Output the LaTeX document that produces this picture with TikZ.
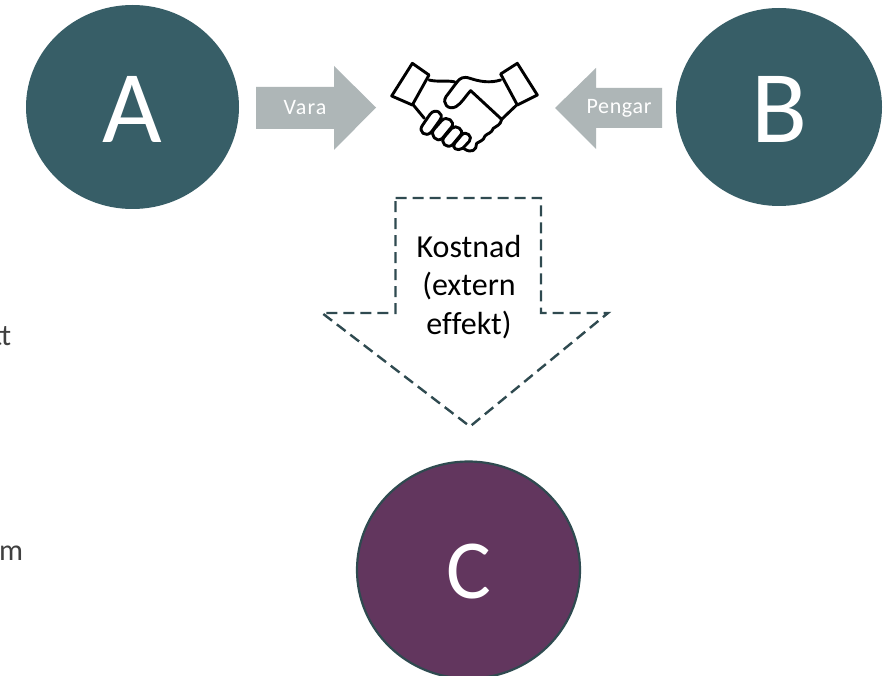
\documentclass[tikz,border=0pt]{standalone}
\usepackage{fontspec}
\setmainfont{Carlito}
\definecolor{teal}{HTML}{375E67}
\definecolor{plum}{HTML}{62365E}
\definecolor{arrowgrey}{HTML}{AEB6B7}
\definecolor{dashc}{HTML}{2F4A50}
\definecolor{cuttext}{HTML}{404040}
\tikzset{
  disc/.style={draw=none,fill=teal,ellipse,inner sep=0pt,text=white},
  bigarrow/.style={fill=arrowgrey,draw=none},
  arrowlabel/.style={text=white,font=\fontsize{22}{26}\selectfont,inner sep=0pt},
  shake/.style={draw=black,line width=2.9pt,line join=round,line cap=round,fill=white},
  shakeline/.style={draw=black,line width=2.9pt,line join=round,line cap=round},
  dasharrow/.style={draw=dashc,line width=2.4pt,dash pattern=on 11pt off 6pt,line join=miter},
  cuttxt/.style={text=cuttext,font=\fontsize{30}{34}\selectfont,inner sep=0pt,anchor=base west},
}
\usetikzlibrary{shapes.geometric}
\begin{document}
\begin{tikzpicture}[x=1pt,y=-1pt]
\useasboundingbox (0,0) rectangle (894,676);
\fill[white] (0,0) rectangle (894,676);
% discs
\node[disc,minimum width=213pt,minimum height=204pt] (A) at (132.5,107) {};
\node[font=\fontsize{103}{110}\selectfont,text=white,inner sep=0pt] (Alabel) at (132,109) {A};
\node[disc,minimum width=206pt,minimum height=198pt] (B) at (779,107) {};
\node[font=\fontsize{103}{110}\selectfont,text=white,inner sep=0pt] (Blabel) at (780,109) {B};
\node[disc,fill=plum,draw=dashc,line width=2.2pt,minimum width=223pt,minimum height=217pt] (C) at (468.5,570) {};
\node[font=\fontsize{84}{90}\selectfont,text=white,inner sep=0pt] (Clabel) at (469,572) {C};
% grey arrows
\fill[bigarrow] (256,87) -- (334,87) -- (334,66) -- (376,107.5) -- (334,150) -- (334,129) -- (256,129) -- cycle;
\node[arrowlabel] (vara) at (305,108) {\addfontfeature{LetterSpace=5}Vara};
\fill[bigarrow] (662,88) -- (596,88) -- (596,68) -- (555,108) -- (596,149) -- (596,128) -- (662,128) -- cycle;
\node[arrowlabel] (pengar) at (619,108) {\addfontfeature{LetterSpace=3}Pengar};
% handshake
\begin{scope}[shift={(380,50)},x=0.3333pt,y=-0.3333pt]
  \path[shake] (97,40) -- (147,75) -- (97,165) -- (35,138) -- cycle;
  \path[shake] (412,40) -- (362,72) -- (412,165) -- (472,135) -- cycle;
  \path[shakeline] (147,90) .. controls (175,97) and (200,90) .. (225,96);
  \path[shakeline] (362,90) .. controls (330,100) and (300,95) .. (270,85) .. controls (250,78) and (240,85) .. (232,95)
     -- (198,140) .. controls (185,160) and (205,182) .. (228,170) .. controls (245,160) and (255,140) .. (272,122)
     -- (365,208);
  \path[shakeline] (410,165) -- (365,208) .. controls (362,225) and (350,228) .. (340,235) .. controls (335,250) and (322,250) .. (315,258)
     .. controls (310,275) and (298,272) .. (290,280) .. controls (290,300) and (275,312) .. (252,296);
  \path[shakeline] (100,165) -- (133,205);
  \path[shake] (128,225) -- (150,193) .. controls (165,172) and (195,190) .. (180,210) -- (155,245) .. controls (138,265) and (112,245) .. (128,225);
  \path[shake] (162,238) -- (185,212) .. controls (200,195) and (228,215) .. (214,232) -- (187,265) .. controls (170,280) and (148,255) .. (162,238);
  \path[shake] (192,262) -- (215,235) .. controls (228,222) and (254,240) .. (242,255) -- (217,285) .. controls (200,297) and (180,278) .. (192,262);
  \path[shake] (224,280) -- (245,255) .. controls (258,240) and (280,260) .. (268,274) -- (248,295) .. controls (232,305) and (213,294) .. (224,280);
\end{scope}
% dashed arrow
\draw[dasharrow] (395.5,198) -- (541,198) -- (541,313) -- (608,313) -- (470,426.5) -- (322,313) -- (395.5,313) -- cycle;
\node[inner sep=0pt,font=\fontsize{32}{38.5}\selectfont,align=center,text=black] (kost) at (469,287) {Kostnad\\(extern\\ef\kern0ptfekt)};
% cut-off text
\node[cuttxt] (t1) at (-8,345) {tt};
\node[cuttxt] (t2) at (-1,560) {m};
\end{tikzpicture}
\end{document}
